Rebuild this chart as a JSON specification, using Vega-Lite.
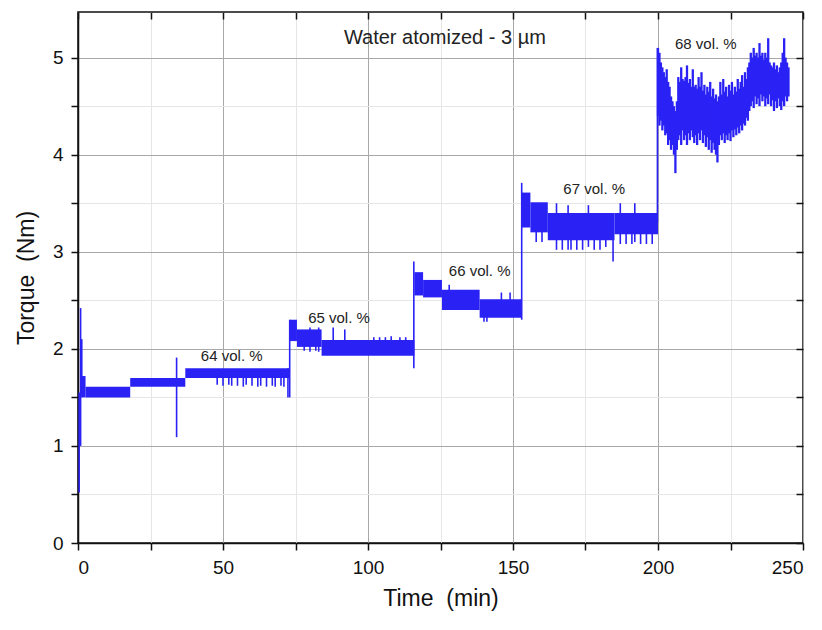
{
  "$schema": "https://vega.github.io/schema/vega-lite/v6.json",
  "width": 725,
  "height": 531,
  "autosize": {"type": "none"},
  "padding": {"left": 78, "top": 12, "right": 19, "bottom": 87},
  "background": "white",
  "config": {
    "view": {"stroke": "#111", "strokeWidth": 1.5},
    "font": "Liberation Sans",
    "axis": {"labelFont": "Liberation Sans", "titleFont": "Liberation Sans", "titleFontWeight": "normal", "domainColor": "#111", "tickColor": "#111", "labelColor": "#111", "titleColor": "#111", "domainWidth": 1.5, "tickWidth": 1.5}
  },
  "datasets": {
    "bands": [
      {"t0": 1.3, "t1": 2.6, "lo": 1.5, "hi": 1.72},
      {"t0": 2.6, "t1": 18, "lo": 1.5, "hi": 1.61},
      {"t0": 18, "t1": 37, "lo": 1.61, "hi": 1.7},
      {"t0": 37, "t1": 73, "lo": 1.7, "hi": 1.8},
      {"t0": 73, "t1": 75.5, "lo": 2.08, "hi": 2.3},
      {"t0": 75.5, "t1": 84, "lo": 2.02, "hi": 2.2},
      {"t0": 84, "t1": 116, "lo": 1.93, "hi": 2.09},
      {"t0": 116, "t1": 119, "lo": 2.55, "hi": 2.79},
      {"t0": 119, "t1": 125.5, "lo": 2.53, "hi": 2.71},
      {"t0": 125.5, "t1": 138.5, "lo": 2.4, "hi": 2.61},
      {"t0": 138.5, "t1": 153, "lo": 2.32, "hi": 2.51},
      {"t0": 153, "t1": 156, "lo": 3.25, "hi": 3.61},
      {"t0": 156, "t1": 162, "lo": 3.2, "hi": 3.51},
      {"t0": 162, "t1": 185, "lo": 3.12, "hi": 3.4},
      {"t0": 185, "t1": 200, "lo": 3.18, "hi": 3.4}
    ],
    "rules": [
      {"t": 0.4, "lo": 0.52, "hi": 1.55},
      {"t": 0.9, "lo": 1.0, "hi": 2.42},
      {"t": 1.3, "lo": 1.5, "hi": 2.1},
      {"t": 34, "lo": 1.09, "hi": 1.91},
      {"t": 48, "lo": 1.63, "hi": 1.72},
      {"t": 50, "lo": 1.62, "hi": 1.72},
      {"t": 52, "lo": 1.63, "hi": 1.72},
      {"t": 53, "lo": 1.62, "hi": 1.72},
      {"t": 55, "lo": 1.62, "hi": 1.72},
      {"t": 57, "lo": 1.61, "hi": 1.72},
      {"t": 58, "lo": 1.63, "hi": 1.72},
      {"t": 60, "lo": 1.62, "hi": 1.72},
      {"t": 62, "lo": 1.61, "hi": 1.72},
      {"t": 63, "lo": 1.62, "hi": 1.72},
      {"t": 65, "lo": 1.61, "hi": 1.72},
      {"t": 67, "lo": 1.62, "hi": 1.72},
      {"t": 68, "lo": 1.61, "hi": 1.72},
      {"t": 70, "lo": 1.62, "hi": 1.72},
      {"t": 71, "lo": 1.61, "hi": 1.72},
      {"t": 72.4, "lo": 1.5, "hi": 1.8},
      {"t": 73, "lo": 1.5, "hi": 2.3},
      {"t": 78, "lo": 1.98, "hi": 2.1},
      {"t": 80, "lo": 1.97, "hi": 2.22},
      {"t": 82, "lo": 1.98, "hi": 2.1},
      {"t": 83, "lo": 1.97, "hi": 2.22},
      {"t": 88, "lo": 2.0, "hi": 2.22},
      {"t": 92, "lo": 2.0, "hi": 2.2},
      {"t": 102, "lo": 1.98, "hi": 2.12},
      {"t": 104, "lo": 1.98, "hi": 2.12},
      {"t": 106, "lo": 1.98, "hi": 2.12},
      {"t": 108, "lo": 1.98, "hi": 2.13},
      {"t": 111, "lo": 1.98, "hi": 2.12},
      {"t": 113, "lo": 1.98, "hi": 2.12},
      {"t": 115.8, "lo": 1.8, "hi": 2.9},
      {"t": 128, "lo": 2.5, "hi": 2.66},
      {"t": 140, "lo": 2.28, "hi": 2.45},
      {"t": 141, "lo": 2.28, "hi": 2.45},
      {"t": 146, "lo": 2.36, "hi": 2.58},
      {"t": 149, "lo": 2.36, "hi": 2.58},
      {"t": 153, "lo": 2.3, "hi": 3.71},
      {"t": 158, "lo": 3.1, "hi": 3.3},
      {"t": 160, "lo": 3.1, "hi": 3.3},
      {"t": 165, "lo": 3.02, "hi": 3.5},
      {"t": 167, "lo": 3.02, "hi": 3.3},
      {"t": 169, "lo": 3.02, "hi": 3.48},
      {"t": 170, "lo": 3.02, "hi": 3.3},
      {"t": 172, "lo": 3.02, "hi": 3.3},
      {"t": 174, "lo": 3.02, "hi": 3.3},
      {"t": 176, "lo": 3.05, "hi": 3.48},
      {"t": 178, "lo": 3.02, "hi": 3.3},
      {"t": 180, "lo": 3.02, "hi": 3.3},
      {"t": 182, "lo": 3.05, "hi": 3.3},
      {"t": 184.5, "lo": 2.9, "hi": 3.3},
      {"t": 187, "lo": 3.08, "hi": 3.5},
      {"t": 189, "lo": 3.08, "hi": 3.3},
      {"t": 191, "lo": 3.08, "hi": 3.3},
      {"t": 192, "lo": 3.1, "hi": 3.5},
      {"t": 194, "lo": 3.08, "hi": 3.3},
      {"t": 196, "lo": 3.08, "hi": 3.3},
      {"t": 198, "lo": 3.08, "hi": 3.3},
      {"t": 199.8, "lo": 3.3, "hi": 5.1}
    ],
    "noise": [
      {"t": 200.0, "lo": 4.40, "hi": 5.10},
      {"t": 200.5, "lo": 4.30, "hi": 5.05},
      {"t": 201.0, "lo": 4.35, "hi": 4.95},
      {"t": 201.5, "lo": 4.25, "hi": 4.90},
      {"t": 202.0, "lo": 4.30, "hi": 4.85},
      {"t": 202.5, "lo": 4.20, "hi": 4.80},
      {"t": 203.0, "lo": 4.22, "hi": 4.88},
      {"t": 203.5, "lo": 4.10, "hi": 4.75},
      {"t": 204.0, "lo": 4.15, "hi": 4.70},
      {"t": 204.5, "lo": 4.05, "hi": 4.60},
      {"t": 205.0, "lo": 4.10, "hi": 4.55},
      {"t": 205.5, "lo": 4.00, "hi": 4.50},
      {"t": 206.0, "lo": 3.81, "hi": 4.45},
      {"t": 206.5, "lo": 4.05, "hi": 4.55},
      {"t": 207.0, "lo": 4.15, "hi": 4.80},
      {"t": 207.5, "lo": 4.20, "hi": 4.75},
      {"t": 208.0, "lo": 4.10, "hi": 4.90},
      {"t": 208.5, "lo": 4.25, "hi": 4.78},
      {"t": 209.0, "lo": 4.15, "hi": 4.76},
      {"t": 209.5, "lo": 4.20, "hi": 4.80},
      {"t": 210.0, "lo": 4.10, "hi": 4.92},
      {"t": 210.5, "lo": 4.22, "hi": 4.74},
      {"t": 211.0, "lo": 4.15, "hi": 4.78},
      {"t": 211.5, "lo": 4.25, "hi": 4.70},
      {"t": 212.0, "lo": 4.18, "hi": 4.88},
      {"t": 212.5, "lo": 4.12, "hi": 4.70},
      {"t": 213.0, "lo": 4.20, "hi": 4.72},
      {"t": 213.5, "lo": 4.10, "hi": 4.68},
      {"t": 214.0, "lo": 4.22, "hi": 4.80},
      {"t": 214.5, "lo": 4.15, "hi": 4.70},
      {"t": 215.0, "lo": 4.25, "hi": 4.85},
      {"t": 215.5, "lo": 4.12, "hi": 4.66},
      {"t": 216.0, "lo": 4.20, "hi": 4.72},
      {"t": 216.5, "lo": 4.08, "hi": 4.62},
      {"t": 217.0, "lo": 4.18, "hi": 4.70},
      {"t": 217.5, "lo": 4.05, "hi": 4.65},
      {"t": 218.0, "lo": 4.15, "hi": 4.75},
      {"t": 218.5, "lo": 4.02, "hi": 4.60},
      {"t": 219.0, "lo": 4.12, "hi": 4.68},
      {"t": 219.5, "lo": 4.05, "hi": 4.58},
      {"t": 220.0, "lo": 4.00, "hi": 4.62},
      {"t": 220.5, "lo": 3.92, "hi": 4.55},
      {"t": 221.0, "lo": 4.10, "hi": 4.60},
      {"t": 221.5, "lo": 4.20, "hi": 4.75},
      {"t": 222.0, "lo": 4.15, "hi": 4.62},
      {"t": 222.5, "lo": 4.22, "hi": 4.78},
      {"t": 223.0, "lo": 4.12, "hi": 4.65},
      {"t": 223.5, "lo": 4.20, "hi": 4.70},
      {"t": 224.0, "lo": 4.15, "hi": 4.60},
      {"t": 224.5, "lo": 4.22, "hi": 4.72},
      {"t": 225.0, "lo": 4.14, "hi": 4.66},
      {"t": 225.5, "lo": 4.25, "hi": 4.75},
      {"t": 226.0, "lo": 4.18, "hi": 4.62},
      {"t": 226.5, "lo": 4.26, "hi": 4.70},
      {"t": 227.0, "lo": 4.20, "hi": 4.65},
      {"t": 227.5, "lo": 4.28, "hi": 4.78},
      {"t": 228.0, "lo": 4.22, "hi": 4.68},
      {"t": 228.5, "lo": 4.30, "hi": 4.75},
      {"t": 229.0, "lo": 4.25, "hi": 4.82},
      {"t": 229.5, "lo": 4.32, "hi": 4.70},
      {"t": 230.0, "lo": 4.30, "hi": 4.85},
      {"t": 230.5, "lo": 4.38, "hi": 4.78},
      {"t": 231.0, "lo": 4.35, "hi": 4.90},
      {"t": 231.5, "lo": 4.45, "hi": 4.95},
      {"t": 232.0, "lo": 4.50, "hi": 5.05},
      {"t": 232.5, "lo": 4.55, "hi": 5.00},
      {"t": 233.0, "lo": 4.48, "hi": 5.10},
      {"t": 233.5, "lo": 4.60, "hi": 5.02},
      {"t": 234.0, "lo": 4.52, "hi": 5.05},
      {"t": 234.5, "lo": 4.58, "hi": 5.00},
      {"t": 235.0, "lo": 4.50, "hi": 5.15},
      {"t": 235.5, "lo": 4.62, "hi": 5.02},
      {"t": 236.0, "lo": 4.55, "hi": 5.05},
      {"t": 236.5, "lo": 4.60, "hi": 4.98},
      {"t": 237.0, "lo": 4.50, "hi": 5.05},
      {"t": 237.5, "lo": 4.58, "hi": 5.00},
      {"t": 238.0, "lo": 4.52, "hi": 5.20},
      {"t": 238.5, "lo": 4.62, "hi": 4.95},
      {"t": 239.0, "lo": 4.50, "hi": 4.92},
      {"t": 239.5, "lo": 4.56, "hi": 4.90},
      {"t": 240.0, "lo": 4.45, "hi": 4.95},
      {"t": 240.5, "lo": 4.55, "hi": 4.88},
      {"t": 241.0, "lo": 4.48, "hi": 4.92},
      {"t": 241.5, "lo": 4.58, "hi": 4.85},
      {"t": 242.0, "lo": 4.50, "hi": 4.90},
      {"t": 242.5, "lo": 4.46, "hi": 4.95},
      {"t": 243.0, "lo": 4.55, "hi": 5.05},
      {"t": 243.5, "lo": 4.50, "hi": 5.20},
      {"t": 244.0, "lo": 4.60, "hi": 5.00},
      {"t": 244.5, "lo": 4.55, "hi": 4.95},
      {"t": 245.0, "lo": 4.60, "hi": 4.90}
    ],
    "labels": [
      {"label": "64 vol. %", "t": 53, "v": 1.93},
      {"label": "65 vol. %", "t": 90, "v": 2.32},
      {"label": "66 vol. %", "t": 138.5, "v": 2.8},
      {"label": "67 vol. %", "t": 178, "v": 3.65},
      {"label": "68 vol. %", "t": 216.5, "v": 5.14}
    ],
    "title": [
      {"label": "Water atomized - 3 µm", "t": 126.5, "v": 5.2}
    ]
  },
  "resolve": {"axis": {"x": "independent", "y": "independent"}},
  "layer": [
    {
      "data": {"name": "bands"},
      "mark": {"type": "rect", "color": "#2a22f5"},
      "encoding": {
        "x": {"field": "t0", "type": "quantitative", "scale": {"domain": [0, 250], "nice": false, "zero": false},
          "axis": {"orient": "bottom", "values": [0, 25, 50, 75, 100, 125, 150, 175, 200, 225, 250],
            "labelExpr": "datum.value % 50 === 0 ? format(datum.value, 'd') : ''",
            "gridColor": {"condition": {"test": "datum.value % 50 === 0", "value": "#a8a8a8"}, "value": "#e6e6e6"},
            "grid": true, "tickSize": 7, "labelFontSize": 19, "labelPadding": 8,
            "title": "Time\u00a0\u00a0(min)", "titleFontSize": 23, "titlePadding": 10}},
        "x2": {"field": "t1"},
        "y": {"field": "lo", "type": "quantitative", "scale": {"domain": [0, 5.47], "nice": false, "zero": false},
          "axis": {"orient": "left", "values": [0, 0.5, 1, 1.5, 2, 2.5, 3, 3.5, 4, 4.5, 5],
            "labelExpr": "datum.value % 1 === 0 ? format(datum.value, 'd') : ''",
            "gridColor": {"condition": {"test": "datum.value % 1 === 0", "value": "#a8a8a8"}, "value": "#e6e6e6"},
            "grid": true, "tickSize": 7, "labelFontSize": 19, "labelPadding": 8,
            "title": "Torque\u00a0\u00a0(Nm)", "titleFontSize": 23, "titlePadding": 14}},
        "y2": {"field": "hi"}
      }
    },
    {
      "data": {"name": "rules"},
      "mark": {"type": "rule", "color": "#2a22f5", "strokeWidth": 1.6},
      "encoding": {
        "x": {"field": "t", "type": "quantitative",
          "axis": {"orient": "top", "values": [0, 25, 50, 75, 100, 125, 150, 175, 200, 225, 250], "labels": false, "grid": false, "domain": false, "tickSize": 7, "offset": -7, "title": null}},
        "y": {"field": "lo", "type": "quantitative",
          "axis": {"orient": "right", "values": [0, 0.5, 1, 1.5, 2, 2.5, 3, 3.5, 4, 4.5, 5], "labels": false, "grid": false, "domain": false, "tickSize": 7, "offset": -7, "title": null}},
        "y2": {"field": "hi"}
      }
    },
    {
      "data": {"name": "noise"},
      "mark": {"type": "rule", "color": "#2a22f5", "strokeWidth": 2.3},
      "encoding": {
        "x": {"field": "t", "type": "quantitative", "axis": null},
        "y": {"field": "lo", "type": "quantitative", "axis": null},
        "y2": {"field": "hi"}
      }
    },
    {
      "data": {"name": "labels"},
      "mark": {"type": "text", "fontSize": 15, "color": "#222", "align": "center", "baseline": "middle"},
      "encoding": {
        "x": {"field": "t", "type": "quantitative", "axis": null},
        "y": {"field": "v", "type": "quantitative", "axis": null},
        "text": {"field": "label"}
      }
    },
    {
      "data": {"name": "title"},
      "mark": {"type": "text", "fontSize": 20, "color": "#222", "align": "center", "baseline": "middle"},
      "encoding": {
        "x": {"field": "t", "type": "quantitative", "axis": null},
        "y": {"field": "v", "type": "quantitative", "axis": null},
        "text": {"field": "label"}
      }
    }
  ]
}
